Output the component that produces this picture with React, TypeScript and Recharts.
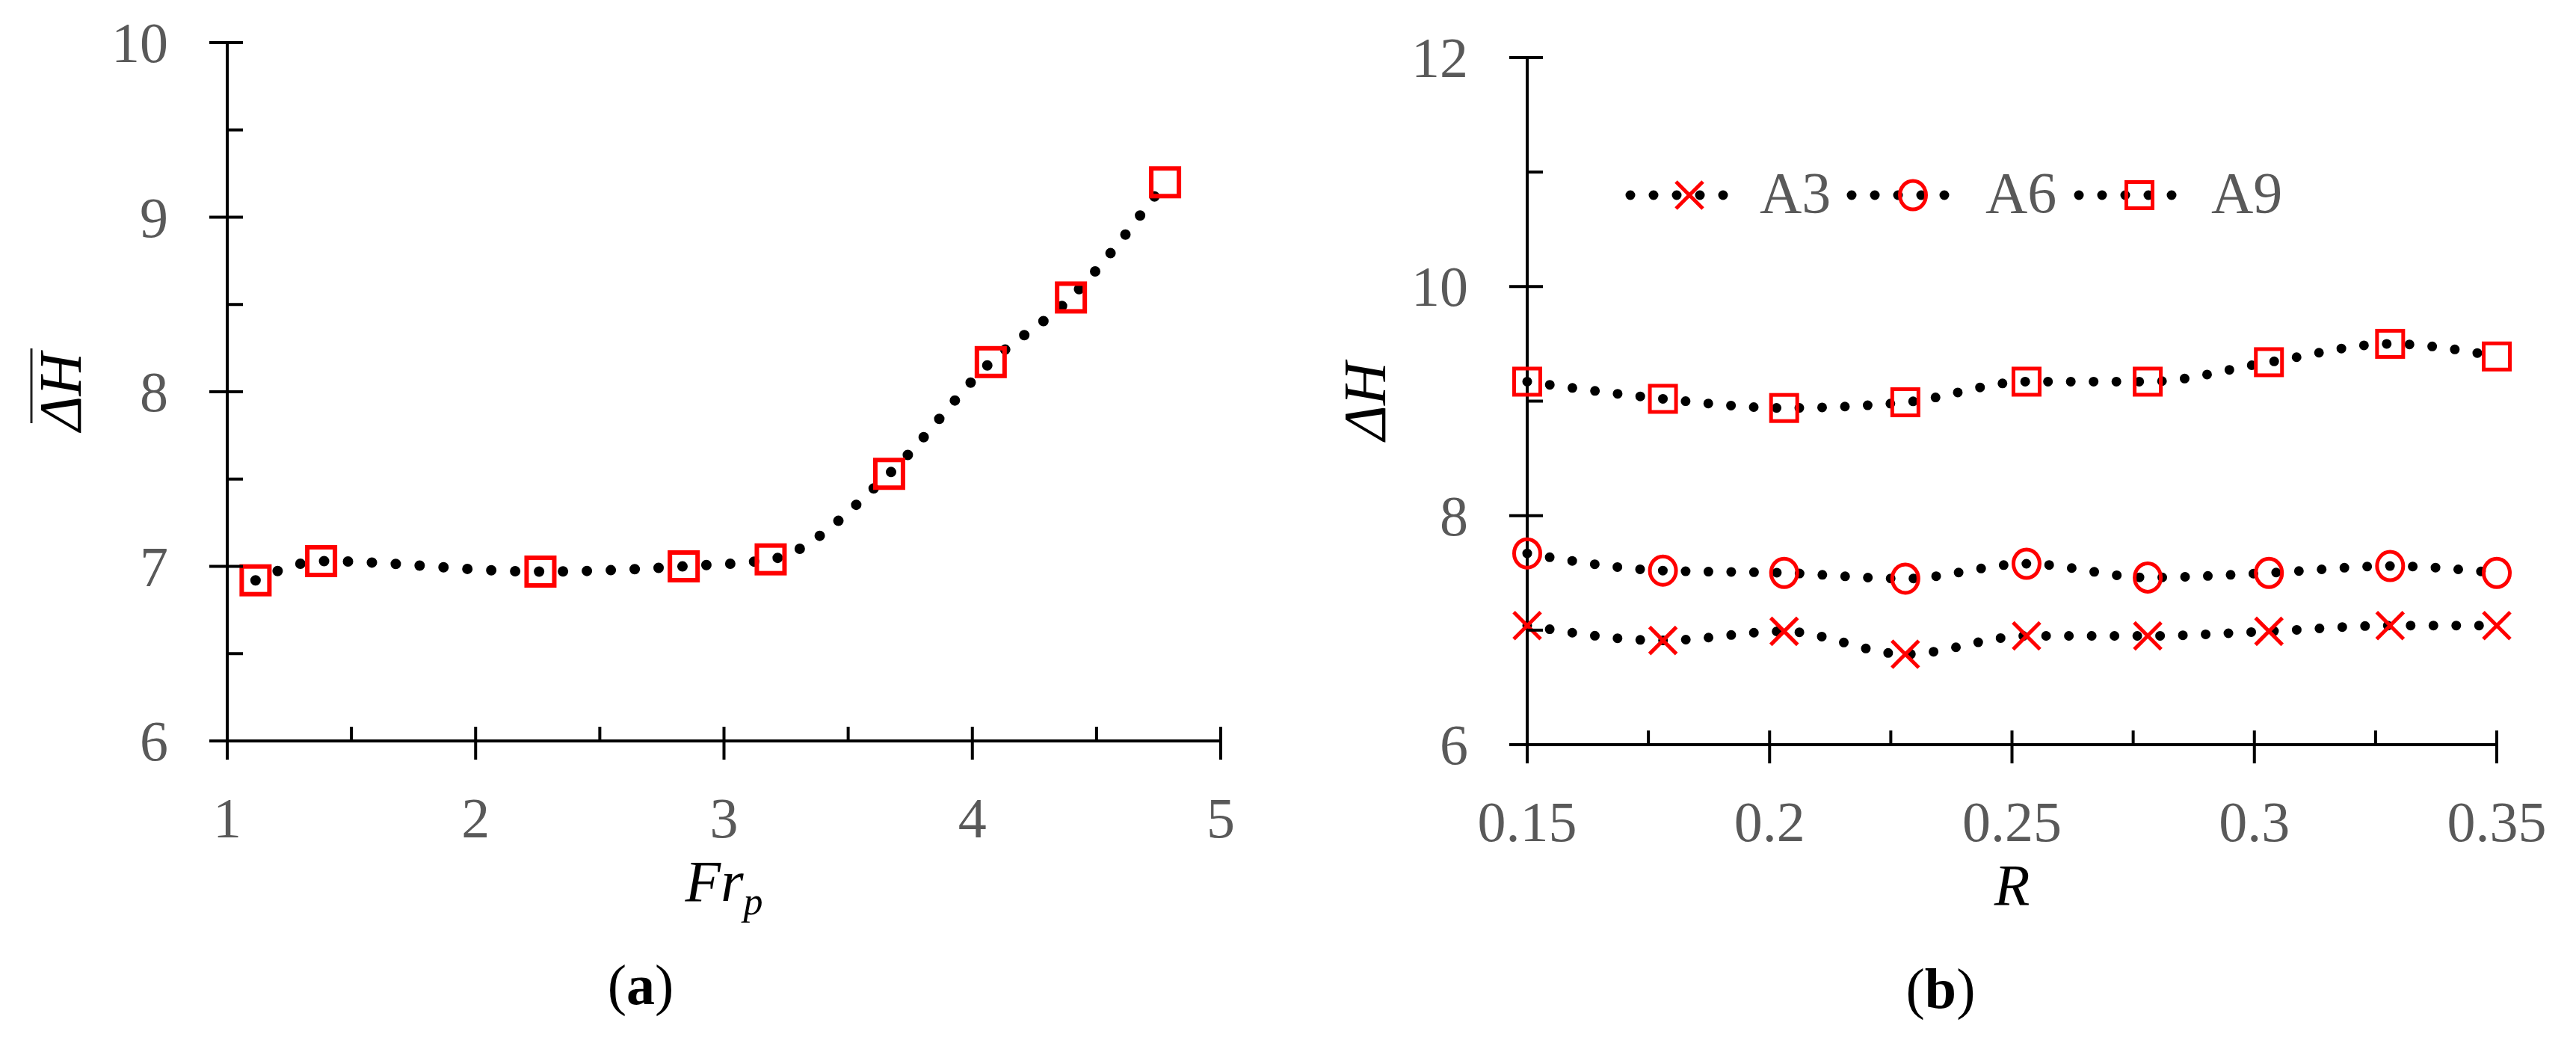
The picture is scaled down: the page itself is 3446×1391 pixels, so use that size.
import React from "react";
import { ComposedChart, Line, Scatter, XAxis, YAxis, Legend } from "recharts";

// panel (a): mean head rise vs Fr_p
const frp = [1.114, 1.378, 2.261, 2.838, 3.188, 3.665, 4.074, 4.397, 4.776];
const dhMean = [6.92, 7.03, 6.97, 7.0, 7.04, 7.53, 8.17, 8.54, 9.2];

// panel (b): head rise vs R for three cases
const rValues = [0.15, 0.178, 0.203, 0.228, 0.253, 0.278, 0.303, 0.328, 0.35];
const a3 = [7.04, 6.91, 6.99, 6.79, 6.95, 6.95, 6.99, 7.04, 7.04];
const a6 = [7.67, 7.52, 7.5, 7.45, 7.58, 7.46, 7.5, 7.56, 7.5];
const a9 = [9.17, 9.02, 8.94, 8.99, 9.17, 9.17, 9.34, 9.5, 9.39];
const seriesNames = ["A3", "A6", "A9"];

const frpTicks = [1, 1.5, 2, 2.5, 3, 3.5, 4, 4.5, 5];
const frpLabels = ["1", "", "2", "", "3", "", "4", "", "5"];
const dhTicksA = [6, 6.5, 7, 7.5, 8, 8.5, 9, 9.5, 10];
const dhLabelsA = ["6", "", "7", "", "8", "", "9", "", "10"];
const rTicks = [0.15, 0.175, 0.2, 0.225, 0.25, 0.275, 0.3, 0.325, 0.35];
const rLabels = ["0.15", "", "0.2", "", "0.25", "", "0.3", "", "0.35"];
const dhTicksB = [6, 7, 8, 9, 10, 11, 12];
const dhLabelsB = ["6", "", "8", "", "10", "", "12"];

const FONT = "'Liberation Serif', 'Times New Roman', serif";
const GRAY = "#595959";
const RED = "#ff0000";

const toRows = (xs: number[], ys: number[]) => xs.map((x, i) => ({ x, y: ys[i] }));

function labelFor(ticks: number[], labels: string[], v: number) {
  const i = ticks.findIndex((t) => Math.abs(t - v) < 1e-6);
  return i < 0 ? "" : labels[i];
}

function makeXTick(ticks: number[], labels: string[]) {
  return (props: any) => {
    const { x, y, payload } = props;
    const label = labelFor(ticks, labels, payload.value);
    const major = label !== "";
    return (
      <g>
        <line x1={x} x2={x} y1={y - 19} y2={major ? y + 25 : y} stroke="#000" strokeWidth={4} />
        {major && (
          <text x={x} y={y + 129} textAnchor="middle" fill={GRAY} fontSize={76} fontFamily={FONT}>
            {label}
          </text>
        )}
      </g>
    );
  };
}

function makeYTick(ticks: number[], labels: string[]) {
  return (props: any) => {
    const { x, y, payload } = props;
    const label = labelFor(ticks, labels, payload.value);
    const major = label !== "";
    return (
      <g>
        <line x1={major ? x - 24 : x} x2={x + 21} y1={y} y2={y} stroke="#000" strokeWidth={4} />
        {major && (
          <text x={x - 79} y={y + 26} textAnchor="end" fill={GRAY} fontSize={76} fontFamily={FONT}>
            {label}
          </text>
        )}
      </g>
    );
  };
}

function Marker({ kind, cx, cy, big }: { kind: string; cx: number; cy: number; big?: boolean }) {
  if (kind === "square") {
    const s = big ? 37 : 35;
    return (
      <rect x={cx - s / 2} y={cy - s / 2} width={s} height={s} fill="none" stroke={RED} strokeWidth={big ? 6 : 5} />
    );
  }
  if (kind === "circle") {
    return <ellipse cx={cx} cy={cy} rx={17.5} ry={19} fill="none" stroke={RED} strokeWidth={5} />;
  }
  return (
    <g stroke={RED} strokeWidth={5}>
      <line x1={cx - 18} y1={cy - 18} x2={cx + 18} y2={cy + 18} />
      <line x1={cx - 18} y1={cy + 18} x2={cx + 18} y2={cy - 18} />
    </g>
  );
}

function DhTitle({ viewBox, offset, overline }: { viewBox?: any; offset: number; overline?: boolean }) {
  if (!viewBox) return null;
  const bx = viewBox.x + viewBox.width - offset;
  const cy = viewBox.y + viewBox.height / 2;
  return (
    <g transform={`rotate(-90 ${bx} ${cy})`}>
      <text x={bx} y={cy} textAnchor="middle" fontStyle="italic" fontSize={80} fontFamily={FONT} fill="#000">
        ΔH
      </text>
      {overline && <line x1={bx - 42} x2={bx + 58} y1={cy - 66} y2={cy - 66} stroke="#222" strokeWidth={3} />}
    </g>
  );
}

function XTitle({ viewBox, caption, name, sub }: { viewBox?: any; caption: string; name: string; sub?: string }) {
  if (!viewBox) return null;
  const cx = viewBox.x + viewBox.width / 2;
  return (
    <g fontFamily={FONT} fill="#000">
      <text x={cx} y={viewBox.y + 214} textAnchor="middle" fontStyle="italic" fontSize={78}>
        {name}
        {sub && (
          <tspan fontSize={52} dy={18}>
            {sub}
          </tspan>
        )}
      </text>
      <text x={viewBox.x + 553} y={viewBox.y + 352} textAnchor="middle" fontSize={76}>
        (<tspan fontWeight="bold">{caption}</tspan>)
      </text>
    </g>
  );
}

const legendKinds = ["cross", "circle", "square"];
// legend item positions, relative to the legend box
const legendDots = [31, 327, 631];
const legendMarks = [110, 409, 712];
const legendText = [204, 506, 808];

function LegendBox() {
  return (
    <svg width={1000} height={80} style={{ overflow: "visible" }}>
      {seriesNames.map((name, i) => (
        <g key={name}>
          <line
            x1={legendDots[i]}
            x2={legendDots[i] + 125}
            y1={40}
            y2={40}
            stroke="#000"
            strokeWidth={13}
            strokeLinecap="round"
            strokeDasharray="0 31"
          />
          <Marker kind={legendKinds[i]} cx={legendMarks[i]} cy={40} />
          <text x={legendText[i]} y={63} fill={GRAY} fontSize={78} fontFamily={FONT}>
            {name}
          </text>
        </g>
      ))}
    </svg>
  );
}

export default function App() {
  const rowsA = toRows(frp, dhMean);
  const rowsB = [toRows(rValues, a3), toRows(rValues, a6), toRows(rValues, a9)];

  return (
    <div style={{ position: "absolute", left: 0, top: 0, width: 3446, height: 1391, background: "#fff" }}>
      <div style={{ position: "absolute", left: 0, top: 0 }}>
        <ComposedChart width={1723} height={1391} margin={{ top: 57, right: 90, bottom: 100, left: 104 }}>
          <XAxis
            type="number"
            dataKey="x"
            domain={[1, 5]}
            ticks={frpTicks}
            interval={0}
            height={300}
            tickSize={0}
            tickMargin={0}
            tickLine={false}
            axisLine={{ stroke: "#000", strokeWidth: 4 }}
            tick={makeXTick(frpTicks, frpLabels)}
            label={{ content: (p: any) => <XTitle viewBox={p.viewBox} name="Fr" sub="p" caption="a" /> }}
          />
          <YAxis
            type="number"
            dataKey="y"
            domain={[6, 10]}
            ticks={dhTicksA}
            interval={0}
            width={200}
            tickSize={0}
            tickMargin={0}
            tickLine={false}
            axisLine={{ stroke: "#000", strokeWidth: 4 }}
            tick={makeYTick(dhTicksA, dhLabelsA)}
            label={{ content: (p: any) => <DhTitle viewBox={p.viewBox} offset={196} overline /> }}
          />
          <Scatter
            data={rowsA}
            dataKey="y"
            isAnimationActive={false}
            shape={(p: any) => <Marker kind="square" cx={p.cx} cy={p.cy} big />}
          />
          <Line
            data={rowsA}
            dataKey="y"
            type="monotone"
            stroke="#000"
            strokeWidth={14}
            strokeLinecap="round"
            strokeDasharray="0 32"
            dot={false}
            activeDot={false}
            legendType="none"
            isAnimationActive={false}
          />
        </ComposedChart>
      </div>
      <div style={{ position: "absolute", left: 1723, top: 0 }}>
        <ComposedChart width={1723} height={1391} margin={{ top: 77, right: 106, bottom: 95, left: 120 }}>
          <XAxis
            type="number"
            dataKey="x"
            domain={[0.15, 0.35]}
            ticks={rTicks}
            interval={0}
            height={300}
            tickSize={0}
            tickMargin={0}
            tickLine={false}
            axisLine={{ stroke: "#000", strokeWidth: 4 }}
            tick={makeXTick(rTicks, rLabels)}
            label={{ content: (p: any) => <XTitle viewBox={p.viewBox} name="R" caption="b" /> }}
          />
          <YAxis
            type="number"
            dataKey="y"
            domain={[6, 12]}
            ticks={dhTicksB}
            interval={0}
            width={200}
            tickSize={0}
            tickMargin={0}
            tickLine={false}
            axisLine={{ stroke: "#000", strokeWidth: 4 }}
            tick={makeYTick(dhTicksB, dhLabelsB)}
            label={{ content: (p: any) => <DhTitle viewBox={p.viewBox} offset={190} /> }}
          />
          {rowsB.map((rows, i) => (
            <Scatter
              key={"s" + i}
              name={seriesNames[i]}
              data={rows}
              dataKey="y"
              isAnimationActive={false}
              shape={(p: any) => <Marker kind={legendKinds[i]} cx={p.cx} cy={p.cy} />}
            />
          ))}
          {rowsB.map((rows, i) => (
            <Line
              key={"l" + i}
              data={rows}
              dataKey="y"
              type="monotone"
              stroke="#000"
              strokeWidth={13}
              strokeLinecap="round"
              strokeDasharray="0 30.5"
              dot={false}
              activeDot={false}
              legendType="none"
              isAnimationActive={false}
            />
          ))}
          <Legend
            layout="horizontal"
            verticalAlign="middle"
            align="center"
            wrapperStyle={{ left: 427, top: 221, width: 1000, height: 80 }}
            content={() => <LegendBox />}
          />
        </ComposedChart>
      </div>
    </div>
  );
}
